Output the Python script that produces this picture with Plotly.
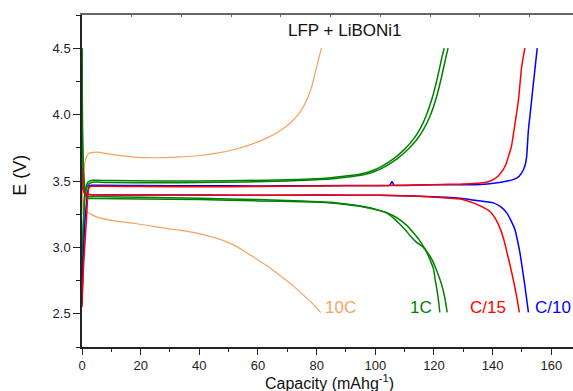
import plotly.graph_objects as go

# ---------------- data ----------------
# 10C
cap_10c_ch = [0, 0.3, 1.0, 2.2, 5, 10, 17.5, 25, 32, 40.2, 46, 51.6, 57, 63, 67, 70.9, 73.5, 75.5, 77, 78.3, 79.2, 80, 80.8, 81.6]
e_10c_ch = [3.25, 3.45, 3.64, 3.705, 3.717, 3.70, 3.68, 3.675, 3.68, 3.692, 3.71, 3.735, 3.77, 3.823, 3.87, 3.935, 3.995, 4.06, 4.13, 4.21, 4.285, 4.36, 4.43, 4.50]
cap_10c_dis = [0, 0.5, 1.6, 3.5, 6.1, 11, 16.4, 22, 27.7, 32, 36.8, 42, 47.1, 52, 56.1, 60, 64.1, 68, 72, 75, 77.7, 81.4]
e_10c_dis = [3.7, 3.35, 3.272, 3.245, 3.222, 3.2, 3.185, 3.167, 3.147, 3.133, 3.117, 3.093, 3.06, 3.015, 2.96, 2.905, 2.847, 2.78, 2.71, 2.65, 2.597, 2.51]

# 1C (two cycles)
cap_1c_ch_a = [0, 0.4, 1.0, 2.0, 3.5, 10, 25, 40, 55, 70, 78, 84, 89.3, 95, 98.5, 102.2, 106.4, 110, 113, 115.3, 117.3, 119.6, 121.3, 122.8, 123.5]
e_1c_ch_a = [2.62, 3.15, 3.4, 3.49, 3.505, 3.503, 3.5, 3.5, 3.503, 3.51, 3.515, 3.522, 3.535, 3.553, 3.574, 3.61, 3.67, 3.74, 3.815, 3.895, 3.99, 4.14, 4.29, 4.44, 4.5]
cap_1c_ch_b = [0, 0.4, 1.0, 2.0, 3.5, 10, 25, 40, 55, 70, 78, 84.6, 90, 95.9, 99.3, 103, 107.3, 111, 114.1, 116.5, 118.6, 120.9, 122.6, 124.1, 124.8]
e_1c_ch_b = [2.62, 3.1, 3.38, 3.47, 3.49, 3.488, 3.486, 3.488, 3.492, 3.5, 3.508, 3.515, 3.528, 3.547, 3.568, 3.605, 3.665, 3.735, 3.81, 3.89, 3.985, 4.135, 4.285, 4.435, 4.5]
cap_1c_dis_a = [0, 0.15, 0.6, 1.2, 2, 5, 20, 40, 60, 75, 84.6, 90, 95.9, 100, 103.9, 106.5, 108.4, 110.5, 111.8, 114, 116.4, 118, 119.5, 121, 122.6, 123.7, 124.5]
e_1c_dis_a = [4.5, 3.9, 3.55, 3.42, 3.385, 3.383, 3.378, 3.37, 3.36, 3.35, 3.34, 3.327, 3.308, 3.288, 3.258, 3.215, 3.175, 3.125, 3.09, 3.04, 3.0, 2.955, 2.9, 2.82, 2.72, 2.62, 2.51]
cap_1c_dis_b = [0, 0.15, 0.6, 1.2, 2, 5, 20, 40, 60, 75, 84.6, 90, 95.9, 100, 103.9, 106, 108.4, 111, 113, 115, 117, 118.6, 119.8, 120.4, 121.3, 122]
e_1c_dis_b = [4.5, 3.85, 3.5, 3.4, 3.37, 3.368, 3.365, 3.36, 3.35, 3.343, 3.335, 3.323, 3.305, 3.285, 3.262, 3.24, 3.208, 3.16, 3.11, 3.055, 2.985, 2.91, 2.84, 2.76, 2.64, 2.51]

# C/10
cap_c10_ch = [0, 0.4, 1.2, 2.5, 4, 20, 40, 60, 80, 101.6, 105, 105.6, 105.9, 106.3, 115, 125, 135.7, 141, 145, 147, 149, 150.5, 151.2, 151.6, 152.2, 152.7, 153.9, 155.2]
e_c10_ch = [2.57, 2.9, 3.25, 3.465, 3.468, 3.466, 3.464, 3.463, 3.465, 3.466, 3.468, 3.495, 3.49, 3.469, 3.47, 3.472, 3.474, 3.485, 3.5, 3.51, 3.535, 3.585, 3.63, 3.685, 3.885, 3.985, 4.235, 4.5]
cap_c10_dis = [0, 0.3, 1.0, 2.5, 5, 20, 40, 60, 80, 101.6, 115, 128.9, 134, 140.2, 142.8, 144.8, 146.3, 147.6, 148.5, 149.3, 150.2, 151, 151.6, 152.2]
e_c10_dis = [3.6, 3.45, 3.405, 3.398, 3.396, 3.395, 3.394, 3.393, 3.394, 3.392, 3.385, 3.37, 3.355, 3.335, 3.305, 3.26, 3.2, 3.135, 3.05, 2.96, 2.83, 2.71, 2.61, 2.51]

# C/15
cap_c15_ch = [0, 0.5, 1.5, 2.5, 4, 20, 40, 60, 80, 101.6, 115, 125, 130, 135.7, 138.5, 140.2, 142, 143.6, 144.6, 145.4, 146.4, 147.2, 148.8, 149.9, 151]
e_c15_ch = [2.55, 2.85, 3.2, 3.455, 3.46, 3.458, 3.456, 3.458, 3.462, 3.465, 3.47, 3.475, 3.478, 3.485, 3.495, 3.51, 3.54, 3.585, 3.63, 3.685, 3.76, 3.87, 4.11, 4.36, 4.5]
cap_c15_dis = [0, 0.3, 1.0, 2.5, 5, 20, 40, 60, 80, 101.6, 115, 124.3, 128.9, 133.4, 136.5, 139.1, 141, 142.5, 143.8, 144.8, 146, 147, 148.2, 149.1]
e_c15_dis = [3.6, 3.45, 3.405, 3.398, 3.396, 3.395, 3.394, 3.393, 3.394, 3.392, 3.385, 3.372, 3.365, 3.335, 3.305, 3.27, 3.215, 3.145, 3.06, 2.97, 2.86, 2.76, 2.63, 2.51]

rate_labels = ["10C", "1C", "C/15", "C/10"]
label_x = [82.0, 111.0, 131.6, 153.8]
label_y = [2.55, 2.55, 2.55, 2.55]
top_ticks = [16.95 * k for k in range(10)]

ORANGE = "#F4A460"
GREEN = "#008000"
RED = "#FF0000"
BLUE = "#0000FF"
FONT = "Arial, Liberation Sans"

fig = go.Figure()

def add(x, y, color, width):
    fig.add_trace(go.Scatter(x=x, y=y, mode="lines",
                             line=dict(color=color, width=width, shape="spline", smoothing=0.6),
                             showlegend=False, hoverinfo="skip"))

add(cap_10c_ch, e_10c_ch, ORANGE, 1.2)
add(cap_10c_dis, e_10c_dis, ORANGE, 1.2)
add(cap_1c_ch_a, e_1c_ch_a, GREEN, 1.5)
add(cap_1c_ch_b, e_1c_ch_b, GREEN, 1.5)
add(cap_1c_dis_a, e_1c_dis_a, GREEN, 1.5)
add(cap_1c_dis_b, e_1c_dis_b, GREEN, 1.5)
add(cap_c10_ch, e_c10_ch, BLUE, 1.5)
add(cap_c10_dis, e_c10_dis, BLUE, 1.5)
add(cap_c15_ch, e_c15_ch, RED, 1.5)
add(cap_c15_dis, e_c15_dis, RED, 1.5)

# dummy trace to show the top axis
fig.add_trace(go.Scatter(x=[0], y=[2.3], xaxis="x2", mode="lines",
                         line=dict(width=0), showlegend=False, hoverinfo="skip"))

label_colors = [ORANGE, GREEN, RED, BLUE]
for t, x, y, c in zip(rate_labels, label_x, label_y, label_colors):
    fig.add_annotation(x=x, y=y, text=t, showarrow=False, xanchor="left", yanchor="middle",
                       font=dict(size=17, color=c, family=FONT))

fig.add_annotation(x=89.7, y=4.635, text="LFP + LiBONi1", showarrow=False,
                   xanchor="center", yanchor="middle",
                   font=dict(size=17, color="#111", family=FONT))

# axis titles as paper-positioned annotations
fig.add_annotation(xref="paper", yref="paper", x=0.505, y=-0.106, text="Capacity (mAhg<sup>-1</sup>)",
                   showarrow=False, xanchor="center", yanchor="middle",
                   font=dict(size=16, color="#111", family=FONT))
fig.add_annotation(xref="paper", yref="paper", x=-0.127, y=0.518, text="E (V)", textangle=-90,
                   showarrow=False, xanchor="center", yanchor="middle",
                   font=dict(size=18, color="#111", family=FONT))

axis_font = dict(size=13, color="#222", family=FONT)
fig.update_layout(
    width=573, height=391,
    margin=dict(l=82, r=0, t=15, b=44),
    paper_bgcolor="white", plot_bgcolor="white",
    font=dict(family=FONT),
    xaxis=dict(range=[0, 167.4], tickvals=list(range(0, 161, 20)),
               ticks="outside", ticklen=6, tickwidth=1.3, tickcolor="#222",
               minor=dict(dtick=10, tick0=0, ticks="outside", ticklen=3, tickcolor="#222"),
               showline=True, linecolor="#222", linewidth=1.5, showgrid=False, zeroline=False,
               tickfont=axis_font),
    xaxis2=dict(range=[0, 167.4], overlaying="x", side="top", tickvals=top_ticks,
                ticks="inside", ticklen=2, tickcolor="#666", showticklabels=False,
                showline=True, linecolor="#666", linewidth=1.5, showgrid=False, zeroline=False),
    yaxis=dict(range=[2.25, 4.75], tickvals=[2.5, 3.0, 3.5, 4.0, 4.5], ticktext=["2.5", "3.0", "3.5", "4.0", "4.5"],
               ticks="outside", ticklen=7, tickwidth=1.3, tickcolor="#222",
               minor=dict(dtick=0.25, tick0=2.25, ticks="outside", ticklen=4, tickcolor="#222"),
               showline=True, linecolor="#222", linewidth=1.5, showgrid=False, zeroline=False,
               tickfont=axis_font),
)

fig.write_html("out.html")
